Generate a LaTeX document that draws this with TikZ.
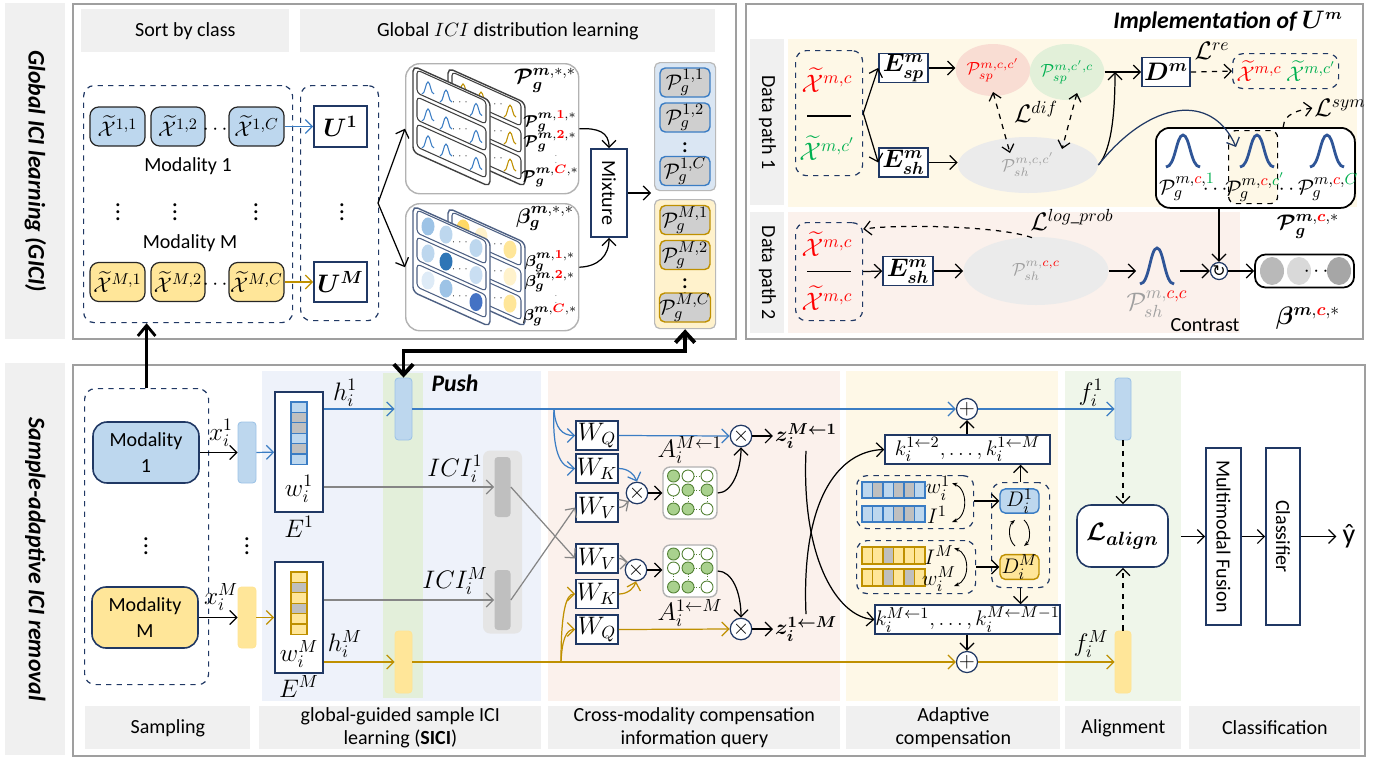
\documentclass[tikz,border=0pt]{standalone}
\usepackage{amsmath}
\usepackage{amssymb}
\usepackage{bm}
\usepackage{fontspec}
\setmainfont{Carlito}
\newfontfamily\arrowfont{DejaVu Sans}
\usepackage{tikz}
\usetikzlibrary{arrows.meta,positioning,calc,shapes.geometric}

\definecolor{hdrgray}{HTML}{F0F0F0}
\definecolor{navy}{HTML}{203864}
\definecolor{modblue}{HTML}{BDD7EE}
\definecolor{modyellow}{HTML}{FFE699}
\definecolor{lineblue}{HTML}{3B7DC4}
\definecolor{linegold}{HTML}{BF9000}
\definecolor{linegray}{HTML}{858585}
\definecolor{sicibg}{HTML}{EEF2FA}
\definecolor{pushbg}{HTML}{E3EFDA}
\definecolor{querybg}{HTML}{FBF1EC}
\definecolor{compbg}{HTML}{FEF8E7}
\definecolor{alignbg}{HTML}{EFF6EA}
\definecolor{cellgray}{HTML}{BFBFBF}
\definecolor{clsred}{HTML}{FF0000}
\definecolor{clsgreen}{HTML}{00B050}
\definecolor{spred}{HTML}{F9DDD3}
\definecolor{spgreen}{HTML}{E2F0D9}
\definecolor{shgray}{HTML}{EBEBEB}
\definecolor{bumpblue}{HTML}{2F5597}
\definecolor{grpblue}{HTML}{DAE6F3}
\definecolor{attgreen}{HTML}{A9D18E}
\definecolor{attedge}{HTML}{548235}
\definecolor{bsh1}{HTML}{DEEBF7}
\definecolor{bsh2}{HTML}{C9DEF2}
\definecolor{bsh3}{HTML}{BDD7EE}
\definecolor{bsh4}{HTML}{9DC3E6}
\definecolor{bsh5}{HTML}{4472C4}
\definecolor{bsh6}{HTML}{2E75B6}
\definecolor{ysh1}{HTML}{FFF2CC}
\definecolor{ysh2}{HTML}{FFE699}
\definecolor{ysh3}{HTML}{FFD966}

\newcommand{\lbltext}{\fontsize{11.4}{13}\selectfont}
\newcommand{\lblmath}{\fontsize{14}{15}\selectfont}
\newcommand{\midmath}{\fontsize{12.5}{14}\selectfont}
\newcommand{\smallmath}{\fontsize{9.5}{11}\selectfont}
\newcommand{\sidetitle}{\fontsize{13.5}{15}\selectfont\bfseries\itshape}
\newcommand{\rd}[1]{\textcolor{clsred}{#1}}
\newcommand{\gn}[1]{\textcolor{clsgreen}{#1}}
\newcommand{\Xt}{\widetilde{\mathcal{X}}}
\newcommand{\bPg}[1]{\bm{\mathcal{P}}_{\bm{g}}^{#1}}
\newcommand{\bBg}[1]{\bm{\beta}_{\bm{g}}^{#1}}
% bell curve: [style] centre x, base y, half width, height
\newcommand{\bell}[5][]{\draw[#1] ({#2-#4},{#3}) .. controls ({#2-0.45*#4},{#3}) and ({#2-0.4*#4},{#3-#5}) .. ({#2},{#3-#5}) .. controls ({#2+0.4*#4},{#3-#5}) and ({#2+0.45*#4},{#3}) .. ({#2+#4},{#3});}
% slanted card: [style] left x, top y, width, height
\newcommand{\slcard}[5][]{\draw[#1] ({#2},{#3}) -- ({#2+#4},{#3+0.45*#4}) -- ({#2+#4},{#3+0.45*#4+#5}) -- ({#2},{#3+#5}) -- cycle;}

\begin{document}
\begin{tikzpicture}[x=0.02cm,y=-0.02cm,
  sz/.style 2 args={minimum width=#1*0.02cm,minimum height=#2*0.02cm,inner sep=0pt},
  hdr/.style={fill=hdrgray,align=center,font=\lbltext},
  sidebar/.style={fill=hdrgray},
  panel/.style={draw=gray!75,line width=0.9pt},
  dbox/.style={draw=navy,dashed,rounded corners=6pt,line width=0.7pt},
  xcls/.style={draw=black!85,rounded corners=5pt,line width=0.7pt,font=\midmath},
  mbox/.style={draw=navy,fill=white,line width=0.9pt,font=\lblmath},
  modbox/.style={draw=navy,rounded corners=8pt,line width=0.9pt,align=center,font=\fontsize{11.4}{15}\selectfont},
  pgin/.style={draw=#1,fill=cellgray!75,rounded corners=3pt,line width=0.8pt,font=\fontsize{13}{14}\selectfont},
  grp/.style={draw=gray!55,fill=#1,rounded corners=3pt,line width=0.7pt},
  bluebar/.style={fill=modblue,draw=bsh4,rounded corners=2pt,line width=0.5pt},
  goldbar/.style={fill=modyellow,draw=ysh3!70,rounded corners=2pt,line width=0.5pt},
  colbg/.style={fill=#1,inner sep=0pt},
  opnode/.style={circle,draw=navy,fill=white,line width=0.7pt,minimum size=0.32cm,inner sep=0pt,font=\midmath},
  spot/.style={ellipse,fill=#1,inner sep=0pt},
  lbl/.style={font=\lblmath,inner sep=1pt},
  arr/.style={-{Straight Barb[length=4pt,width=8pt]},line width=0.7pt},
  darr/.style={{Straight Barb[length=4pt,width=7pt]}-{Straight Barb[length=4pt,width=7pt]},dashed,line width=0.7pt},
  pusharr/.style={{Straight Barb[length=6pt,width=11pt]}-{Straight Barb[length=6pt,width=11pt]},line width=2.2pt},
  vbox/.style={draw=navy,fill=white,line width=0.9pt}
]
\useasboundingbox (0,0) rectangle (1382,758);

% ================= global ICI learning =================
\node[sidebar,sz={60}{336},anchor=north west] (gicibar) at (5,3) {};
\node[rotate=-90,font=\sidetitle] (gicititle) at (gicibar.center) {Global ICI learning (GICI)};
\node[panel,sz={663}{335},anchor=north west] (gicipanel) at (72,3) {};
\node[hdr,sz={208}{43},anchor=north west] (sorthdr) at (81,9) {Sort by class};
\node[hdr,sz={415}{43},anchor=north west] (disthdr) at (300,9) {Global $ICI$ distribution learning};

\node[dbox,sz={209}{237},anchor=north west] (sortbox) at (83,85) {};
\node[xcls,fill=modblue,sz={55}{39}] (x11) at (117.5,126.5) {$\Xt^{1,1}$};
\node[xcls,fill=modblue,sz={54}{39}] (x12) at (178,126.5) {$\Xt^{1,2}$};
\node[xcls,fill=modblue,sz={55}{39}] (x1C) at (256.5,126.5) {$\Xt^{1,C}$};
\node[font=\midmath,inner sep=0pt] (x1dots) at (217,130) {$\cdots$};
\node[font=\lbltext] (mod1name) at (188,166) {Modality 1};
\node[lbl] (sortvd1) at (118,207) {$\vdots$};
\node[lbl] (sortvd2) at (175,207) {$\vdots$};
\node[lbl] (sortvd3) at (256,207) {$\vdots$};
\node[font=\lbltext] (modMname) at (190,243) {Modality M};
\node[xcls,fill=modyellow,sz={55}{39}] (xM1) at (117.5,282) {$\Xt^{M,1}$};
\node[xcls,fill=modyellow,sz={54}{39}] (xM2) at (178,282) {$\Xt^{M,2}$};
\node[xcls,fill=modyellow,sz={55}{39}] (xMC) at (256.5,282) {$\Xt^{M,C}$};
\node[font=\midmath,inner sep=0pt] (xMdots) at (217,285) {$\cdots$};

\node[dbox,sz={78}{235},anchor=north west] (ubox) at (300,85) {};
\node[mbox,sz={53}{41}] (u1) at (340.5,126.5) {$\bm{U^{1}}$};
\node[lbl] (uvd) at (342,207) {$\vdots$};
\node[mbox,sz={53}{40}] (uM) at (340.5,282) {$\bm{U^{M}}$};
\draw[arr,lineblue] (x1C) -- (u1);
\draw[arr,linegold] (xMC) -- (uM);

\node[draw=gray!60,fill=white,rounded corners=8pt,line width=0.8pt,sz={173}{130},anchor=north west] (pbank) at (405,63) {};
\node[draw=gray!60,fill=white,rounded corners=8pt,line width=0.8pt,sz={173}{127},anchor=north west] (bbank) at (405,203) {};
\coordinate (ufork) at (378,203);
\draw[arr] (ufork) -- (pbank.west);
\draw[arr] (ufork) -- (bbank.west);

% distribution cards: gold cards behind, blue cards in front
\slcard[draw=black!75,fill=white,line width=0.8pt,rounded corners=3pt]{448}{68}{77}{84}
\foreach \ry in {72,99,126}{%
  \slcard[draw=black!75,line width=0.6pt,rounded corners=2pt]{452}{\ry}{69}{23}
  \foreach \bx in {463,481,510}{\bell[linegold,line width=0.6pt]{\bx}{\ry+19+0.45*(\bx-452)}{6}{12}}
  \node[inner sep=0pt,font=\tiny] (gdots\ry) at (496,{\ry+13+0.45*44}) {$\cdots$};
}
\slcard[draw=black!75,fill=white,line width=0.8pt,rounded corners=3pt]{413}{66}{77}{86}
\foreach \ry in {70,97,124}{%
  \slcard[draw=black!75,line width=0.6pt,rounded corners=2pt]{417}{\ry}{69}{23}
  \foreach \bx in {428,446,476}{\bell[lineblue,line width=0.6pt]{\bx}{\ry+19+0.45*(\bx-417)}{6}{12}}
  \node[inner sep=0pt,font=\tiny] (bdots\ry) at (461,{\ry+13+0.45*44}) {$\cdots$};
}
% weight cards
\slcard[draw=navy!80,fill=white,line width=0.8pt,rounded corners=3pt]{448}{208}{77}{84}
\foreach \ry/\ca/\cb/\cc in {212/ysh3/ysh1/ysh2,239/ysh1/ysh1/ysh1,266/ysh2/ysh1/ysh2}{%
  \slcard[draw=navy!80,line width=0.6pt,rounded corners=2pt]{452}{\ry}{69}{23}
  \fill[\ca] (463,{\ry+11.5+0.45*11}) ellipse [x radius=6.5,y radius=9];
  \fill[\cb] (481,{\ry+11.5+0.45*29}) ellipse [x radius=6.5,y radius=9];
  \fill[\cc] (510,{\ry+11.5+0.45*58}) ellipse [x radius=6.5,y radius=9];
  \node[inner sep=0pt,font=\tiny] (ywdots\ry) at (496,{\ry+13+0.45*44}) {$\cdots$};
}
\slcard[draw=navy!80,fill=white,line width=0.8pt,rounded corners=3pt]{413}{206}{77}{86}
\foreach \ry/\ca/\cb/\cc in {210/bsh4/bsh3/bsh3,237/bsh3/bsh6/bsh2,264/bsh1/bsh4/bsh5}{%
  \slcard[draw=navy!80,line width=0.6pt,rounded corners=2pt]{417}{\ry}{69}{23}
  \fill[\ca] (428,{\ry+11.5+0.45*11}) ellipse [x radius=6.5,y radius=9];
  \fill[\cb] (446,{\ry+11.5+0.45*29}) ellipse [x radius=6.5,y radius=9];
  \fill[\cc] (476,{\ry+11.5+0.45*59}) ellipse [x radius=6.5,y radius=9];
  \node[inner sep=0pt,font=\tiny] (bwdots\ry) at (461,{\ry+13+0.45*44}) {$\cdots$};
}

\node[font=\fontsize{13}{14}\selectfont] (pgall) at (545,80) {$\bPg{\bm{m},*,*}$};
\node[font=\smallmath] (pgr1) at (550,121) {$\bPg{\bm{m},\rd{\bm{1}},*}$};
\node[font=\smallmath] (pgr2) at (550,141) {$\bPg{\bm{m},\rd{\bm{2}},*}$};
\node[font=\tiny,gray,inner sep=0pt] (pgrvd) at (556,158) {$\vdots$};
\node[font=\smallmath] (pgrC) at (550,176) {$\bPg{\bm{m},\rd{\bm{C}},*}$};
\node[font=\fontsize{13}{14}\selectfont] (bgall) at (545,218) {$\bBg{\bm{m},*,*}$};
\node[font=\smallmath] (bgr1) at (550,261) {$\bBg{\bm{m},\rd{\bm{1}},*}$};
\node[font=\smallmath] (bgr2) at (550,281) {$\bBg{\bm{m},\rd{\bm{2}},*}$};
\node[font=\tiny,gray,inner sep=0pt] (bgrvd) at (556,298) {$\vdots$};
\node[font=\smallmath] (bgrC) at (550,315) {$\bBg{\bm{m},\rd{\bm{C}},*}$};

\node[vbox,sz={36}{88}] (mix) at (609,193) {};
\node[rotate=-90,font=\lbltext] (mixname) at (mix.center) {Mixture};
\draw[arr] (pbank.east) .. controls (598,128) and (609,132) .. (mix.north);
\draw[arr] (bbank.east) .. controls (598,266.5) and (609,256) .. (mix.south);
\coordinate (mixout) at (651,193);
\draw[arr] (mix.east) -- (mixout);

\node[grp=grpblue,sz={61}{128},anchor=north west] (grp1) at (654,62) {};
\node[pgin=lineblue,sz={50}{29}] (pg11) at (685,82.5) {$\mathcal{P}_g^{1,1}$};
\node[pgin=lineblue,sz={50}{29}] (pg12) at (685,117.5) {$\mathcal{P}_g^{1,2}$};
\node[lbl] (pg1vd) at (685,146) {$\vdots$};
\node[pgin=lineblue,sz={50}{29}] (pg1C) at (685,171) {$\mathcal{P}_g^{1,C}$};
\node[grp=ysh1,sz={61}{129},anchor=north west] (grpM) at (654,199) {};
\node[pgin=linegold,sz={50}{29}] (pgM1) at (685,220) {$\mathcal{P}_g^{M,1}$};
\node[pgin=linegold,sz={50}{29}] (pgM2) at (685,255) {$\mathcal{P}_g^{M,2}$};
\node[lbl] (pgMvd) at (685,282) {$\vdots$};
\node[pgin=linegold,sz={50}{29}] (pgMC) at (685,307.5) {$\mathcal{P}_g^{M,C}$};

% ================= implementation of U^m =================
\node[panel,sz={617}{335},anchor=north west] (umpanel) at (745,3) {};
\node[font=\sidetitle,anchor=east] (umtitle) at (1349,22) {Implementation of $\bm{U^{m}}$};
\node[sidebar,sz={34}{166},anchor=north west] (dp1bar) at (750,39) {};
\node[rotate=-90,font=\lbltext] (dp1name) at (dp1bar.center) {Data path 1};
\node[colbg=compbg,sz={569}{168},anchor=north west] (dp1bg) at (788,39) {};
\node[sidebar,sz={34}{121},anchor=north west] (dp2bar) at (750,212) {};
\node[rotate=-90,font=\lbltext] (dp2name) at (dp2bar.center) {Data path 2};
\node[colbg=querybg,sz={452}{121},anchor=north west] (dp2bg) at (788,212) {};

% data path 1
\node[dbox,sz={67}{125},anchor=north west] (dp1in) at (795,50) {};
\node[lbl] (dp1xa) at (827,80) {$\rd{\Xt^{m,c}}$};
\draw[line width=0.8pt] ($(dp1in.west)+(12,3)$) -- ($(dp1in.east)+(-12,3)$);
\node[lbl] (dp1xb) at (827,148) {$\gn{\Xt^{m,c'}}$};
\node[mbox,sz={49}{29}] (esp) at (903.5,68) {$\bm{E_{sp}^{m}}$};
\node[mbox,sz={49}{29}] (esh) at (903.5,162.5) {$\bm{E_{sh}^{m}}$};
\coordinate (dp1fork) at (dp1in.east);
\draw[arr] (dp1fork) -- (esp.west);
\draw[arr] (dp1fork) -- (esh.west);
\node[spot=spred,sz={70}{52}] (sppos) at (993,70) {$\rd{\mathcal{P}_{sp}^{m,c,c'}}$};
\node[spot=spgreen,sz={74}{56}] (spneg) at (1067,72) {$\gn{\mathcal{P}_{sp}^{m,c',c}}$};
\node[spot=shgray,sz={140}{56},text=gray!75] (shpair) at (1028,165) {$\mathcal{P}_{sh}^{m,c,c'}$};
\draw[arr] (esp.east) -- (esp.east -| sppos.west);
\draw[arr] (esh.east) -- (esh.east -| shpair.west);
\draw[darr] ($(sppos.center)+(0,22)$) -- ($(shpair.center)+(-18,-12)$);
\draw[darr] ($(spneg.center)+(10,21)$) -- ($(shpair.center)+(34,-16)$);
\node[lbl] (ldif) at (1036,112) {$\mathcal{L}^{dif}$};
\coordinate (djoin) at (1115,72);
\node[mbox,sz={48}{29}] (dm) at (1166,72) {$\bm{D^{m}}$};
\draw[line width=0.7pt] (spneg.east) -- (djoin);
\draw[arr] (djoin) -- (dm.west);
\draw[arr] (shpair.east) .. controls (1112,150) and (1115,110) .. (djoin);
\node[dbox,sz={106}{35},anchor=north west] (recbox) at (1232,53) {};
\node[lbl,font=\midmath] (recxa) at (1259,71) {$\rd{\Xt^{m,c}}$};
\node[lbl,font=\midmath] (recxb) at (1311,71) {$\gn{\Xt^{m,c'}}$};
\draw[arr,dashed] (dm.east) -- (recbox.west);
\node[lbl] (lre) at (1212,51) {$\mathcal{L}^{re}$};

\node[draw=black,fill=white,rounded corners=8pt,line width=1pt,sz={199}{80},anchor=north west] (pgbox) at (1155,127) {};
\node[dbox,draw=black,fill=compbg,rounded corners=4pt,sz={49}{73},anchor=north west] (pgsel) at (1228,130) {};
\bell[bumpblue,line width=1.6pt]{1183}{167}{17}{32}
\bell[bumpblue,line width=1.6pt]{1257}{167}{17}{32}
\bell[bumpblue,line width=1.6pt]{1327}{167}{17}{32}
\node[lbl,font=\midmath] (pgc1) at (1187,187) {$\mathcal{P}_g^{m,\rd{c},\gn{1}}$};
\node[lbl,font=\midmath] (pgcc) at (1255,187) {$\mathcal{P}_g^{m,\rd{c},\gn{c'}}$};
\node[lbl,font=\midmath] (pgcC) at (1328,187) {$\mathcal{P}_g^{m,\rd{c},\gn{C}}$};
\node[font=\midmath,inner sep=0pt] (pgdots1) at (1217,190) {$\cdots$};
\node[font=\midmath,inner sep=0pt] (pgdots2) at (1293,190) {$\cdots$};
\node[lbl,font=\fontsize{13}{14}\selectfont] (pgrow) at (1308,226) {$\bPg{\bm{m},\rd{\bm{c}},*}$};
\draw[arr,navy] (shpair.east) .. controls (1150,100) and (1212,92) .. ($(pgsel.north west)+(8,17)$);
\node[lbl] (lsym) at (1340,108) {$\mathcal{L}^{sym}$};
\draw[arr,dashed] ($(pgsel.north east)+(5,-3)$) .. controls (1284,113) and (1300,110) .. (lsym.west);

% data path 2
\node[dbox,sz={67}{98},anchor=north west] (dp2in) at (795,222) {};
\node[lbl] (dp2xa) at (827,244) {$\rd{\Xt^{m,c}}$};
\draw[line width=0.8pt] ($(dp2in.west)+(12,0)$) -- ($(dp2in.east)+(-12,0)$);
\node[lbl] (dp2xb) at (827,298) {$\rd{\Xt^{m,c}}$};
\node[mbox,sz={50}{29}] (esh2) at (908,271) {$\bm{E_{sh}^{m}}$};
\draw[arr] (dp2in.east) -- (esh2.west);
\node[spot=shgray,sz={145}{68},text=gray!75] (shself) at (1036,271) {$\mathcal{P}_{sh}^{m,\rd{c,c}}$};
\draw[arr] (esh2.east) -- (shself.west);
\draw[arr,dashed] ($(shself.north)+(-4,1)$) .. controls (1000,226) and (900,224) .. ($(dp2in.north east)+(0,7)$);
\node[lbl] (llog) at (1072,220) {$\mathcal{L}^{log\_prob}$};
\coordinate (bumpin) at (1136,271);
\coordinate (bumpout) at (1180,271);
\bell[bumpblue,line width=1.6pt]{1157}{284}{17}{36}
\node[lbl,text=gray!75] (shbump) at (1157,304) {$\mathcal{P}_{sh}^{m,\rd{c,c}}$};
\node[opnode] (ctr) at (1219,271) {\arrowfont\fontsize{9}{9}\selectfont ↻};
\draw[arr] (shself.east) -- (bumpin);
\draw[arr] (bumpout) -- (ctr.west);
\draw[arr] (pgbox.south -| ctr) -- (ctr.north);
\node[draw=black,fill=white,rounded corners=6pt,line width=1pt,sz={99}{33}] (brow) at (1304.5,271) {};
\node[spot=gray!55,sz={24}{28}] (bsp1) at (1272,271) {};
\node[spot=gray!30,sz={24}{28}] (bsp2) at (1299,271) {};
\node[font=\midmath,inner sep=0pt] (bspdots) at (1318,272) {$\cdots$};
\node[spot=gray!70,sz={24}{28}] (bsp3) at (1339,271) {};
\draw[arr] (ctr.east) -- (brow.west);
\node[font=\lbltext] (contrast) at (1205,325) {Contrast};
\node[lbl] (browlbl) at (1308,318) {$\bm{\beta}^{\bm{m},\rd{\bm{c}},*}$};

% ================= sample-adaptive ICI removal =================
\node[sidebar,sz={60}{392},anchor=north west] (sairbar) at (5,363) {};
\node[rotate=-90,font=\sidetitle] (sairtitle) at (sairbar.center) {Sample-adaptive ICI removal};
\node[panel,sz={1292}{391},anchor=north west] (sairpanel) at (72,364) {};
\node[colbg=sicibg,sz={279}{330},anchor=north west] (sicicol) at (262,371) {};
\node[colbg=pushbg,sz={40}{325},anchor=north west] (pushcol) at (383,373) {};
\node[colbg=querybg,sz={292}{330},anchor=north west] (querycol) at (548,371) {};
\node[colbg=compbg,sz={212}{330},anchor=north west] (compcol) at (846,371) {};
\node[colbg=alignbg,sz={116}{330},anchor=north west] (aligncol) at (1065,371) {};
\node[hdr,sz={165}{43},anchor=north west] (samphdr) at (85,706) {Sampling};
\node[hdr,sz={282}{43},anchor=north west] (sicihdr) at (259,706) {global-guided sample ICI\\learning (\textbf{SICI})};
\node[hdr,sz={292}{43},anchor=north west] (queryhdr) at (548,706) {Cross-modality compensation\\information query};
\node[hdr,sz={214}{43},anchor=north west] (comphdr) at (846,706) {Adaptive\\compensation};
\node[hdr,sz={116}{43},anchor=north west] (alignhdr) at (1065,706) {Alignment};
\node[hdr,sz={171}{43},anchor=north west] (clshdr) at (1189,706) {Classification};

% sampling
\node[dbox,sz={124}{296},anchor=north west] (sampbox) at (84,388) {};
\draw[line width=1.6pt,-{Straight Barb[length=6pt,width=10pt]}] (sampbox.north) -- (sampbox.north |- sortbox.south);
\node[modbox,fill=modblue,sz={106}{61}] (mod1) at (146,452.5) {Modality\\1};
\node[lbl] (sampvd1) at (146,541) {$\vdots$};
\node[lbl] (sampvd2) at (247,541) {$\vdots$};
\node[modbox,fill=modyellow,sz={106}{61}] (modM) at (145,617.5) {Modality\\M};
\node[bluebar,sz={18}{61}] (xbar1) at (247,452.5) {};
\node[goldbar,sz={18}{61}] (xbarM) at (247,617.5) {};
\draw[arr] (mod1) -- (xbar1);
\draw[arr] (modM) -- (xbarM);
\node[lbl] (x1lbl) at (221,433) {$x_i^{1}$};
\node[lbl] (xMlbl) at (221,597) {$x_i^{M}$};

% SICI
\node[vbox,sz={48}{120}] (enc1) at (299,452) {};
\foreach \cc [count=\i] in {modblue,cellgray,cellgray,modblue,cellgray,modblue}
  \draw[draw=lineblue,fill=\cc,line width=0.6pt] (291,{402+(\i-1)*10.4}) rectangle ++(16,10.4);
\node[lbl] (w1lbl) at (299,489) {$w_i^{1}$};
\node[lbl,below=1pt of enc1] (enc1lbl) {$E^{1}$};
\node[vbox,sz={48}{111}] (encM) at (299,617.5) {};
\foreach \cc [count=\i] in {modyellow,cellgray,modyellow,cellgray,modyellow,modyellow}
  \draw[draw=linegold,fill=\cc,line width=0.6pt] (291,{572+(\i-1)*10.4}) rectangle ++(16,10.4);
\node[lbl] (wMlbl) at (299,654) {$w_i^{M}$};
\node[lbl,below=0pt of encM] (encMlbl) {$E^{M}$};
\draw[arr,lineblue] (xbar1) -- (enc1);
\draw[arr,linegold] (xbarM) -- (encM);

\node[bluebar,sz={17}{62}] (hbar1) at (403.5,409) {};
\node[goldbar,sz={17}{62}] (hbarM) at (403.5,662) {};
\draw[arr,lineblue] (enc1.east |- hbar1.west) -- (hbar1.west);
\draw[arr,linegold] (encM.east |- hbarM.west) -- (hbarM.west);
\node[lbl] (h1lbl) at (345,393) {$h_i^{1}$};
\node[lbl] (hMlbl) at (345,644) {$h_i^{M}$};
\node[font=\sidetitle] (pushname) at (455,383) {Push};
\draw[pusharr] (grpM.south) -- ++(0,22) -| (hbar1.north);

\node[fill=gray!20,rounded corners=4pt,sz={39}{183}] (icigrp) at (502.5,542) {};
\node[fill=gray!50,rounded corners=2pt,sz={16}{60}] (ici1) at (502.5,487) {};
\node[fill=gray!50,rounded corners=2pt,sz={16}{60}] (iciM) at (502.5,600) {};
\draw[arr,linegray] (enc1.east |- ici1.west) -- (ici1.west);
\draw[arr,linegray] (encM.east |- iciM.west) -- (iciM.west);
\node[lbl] (ici1lbl) at (455,469) {$ICI_i^{1}$};
\node[lbl] (iciMlbl) at (455,581) {$ICI_i^{M}$};

% cross-modality query
\node[mbox,sz={42}{29}] (wq1) at (597,435.5) {$W_Q$};
\node[mbox,sz={42}{29}] (wk1) at (597,468.5) {$W_K$};
\node[mbox,sz={42}{29}] (wv1) at (597,507.5) {$W_V$};
\node[mbox,sz={42}{29}] (wvM) at (597,558.5) {$W_V$};
\node[mbox,sz={42}{29}] (wkM) at (597,594) {$W_K$};
\node[mbox,sz={42}{29}] (wqM) at (597,629.5) {$W_Q$};
\draw[arr,linegray] (ici1.east) -- (wvM.west);
\draw[arr,linegray] (iciM.east) -- (wv1.west);

\node[opnode] (plus1) at (967,409) {$+$};
\node[opnode] (plusM) at (967,662) {$+$};
\draw[arr,lineblue] (hbar1.east) -- (plus1.west);
\draw[arr,linegold] (hbarM.east) -- (plusM.west);
\coordinate (qfork1) at (554,409);
\coordinate (qforkM) at (561,662);
\draw[arr,lineblue] (qfork1) .. controls (555,428) and (562,435.5) .. (wq1.west);
\draw[arr,lineblue] (qfork1) .. controls (552,450) and (560,468.5) .. (wk1.west);
\draw[arr,linegold] (qforkM) .. controls (562,640) and (566,629.5) .. (wqM.west);
\draw[arr,linegold] (qforkM) .. controls (561,612) and (566,594) .. (wkM.west);

\node[opnode] (att1) at (637,493) {$\times$};
\node[opnode] (attM) at (636,570) {$\times$};
\node[opnode] (q1) at (741,436) {$\times$};
\node[opnode] (qM) at (741,629) {$\times$};
\draw[arr,lineblue] (wq1.east) -- (q1.west);
\draw[arr,linegold] (wqM.east) -- (qM.west);
\draw[arr,lineblue] (wk1.east) .. controls (628,468.5) and (634,474) .. (att1.north);
\draw[arr,linegray] (wv1.east) .. controls (625,507.5) and (626,503) .. (att1.south west);
\draw[arr,linegray] (wvM.east) .. controls (624,558.5) and (625,562) .. (attM.north west);
\draw[arr,linegold] (wkM.east) .. controls (628,594) and (634,588) .. (attM.south);

\node[draw=gray!60,fill=white,rounded corners=4pt,line width=0.8pt,sz={54}{52}] (amat1) at (690,493) {};
\node[draw=gray!60,fill=white,rounded corners=4pt,line width=0.8pt,sz={54}{52}] (amatM) at (690,571) {};
\foreach \my in {0,78}{%
  \foreach \cx/\cy/\cf in {673.5/476/attgreen,688/476/white,707/476/white,
                           673.5/490/white,688/490/attgreen,707/490/attgreen,
                           673.5/509/attgreen,688/509/attgreen,707/509/white}{%
    \draw[attedge,fill=\cf,line width=0.5pt] (\cx,{\cy+\my}) circle [radius=6];
  }
  \foreach \cy in {476,490,509}{\draw[attedge,densely dotted,line width=0.4pt] (694,{\cy+\my}) -- (701,{\cy+\my});}
  \foreach \cx in {673.5,688,707}{\draw[attedge,densely dotted,line width=0.4pt] (\cx,{496+\my}) -- (\cx,{503+\my});}
}
\draw[arr] (att1.east) -- (amat1.west);
\draw[arr] (attM.east) -- (attM.east -| amatM.west);
\node[lbl] (a1lbl) at (690,450) {$A_i^{M\leftarrow1}$};
\node[lbl] (aMlbl) at (690,613) {$A_i^{1\leftarrow M}$};
\draw[arr] (amat1.east) .. controls (732,493) and (741,470) .. (q1.south);
\draw[arr] (amatM.east) .. controls (732,571) and (741,592) .. (qM.north);
\node[lbl,font=\fontsize{13}{14}\selectfont] (z1) at (806,436) {$\bm{z_i^{M\leftarrow1}}$};
\node[lbl,font=\fontsize{13}{14}\selectfont] (zM) at (806,629) {$\bm{z_i^{1\leftarrow M}}$};
\draw[arr] (q1.east) -- (z1.west);
\draw[arr] (qM.east) -- (zM.west);

% adaptive compensation
\node[mbox,sz={165}{29},font=\fontsize{13}{14}\selectfont] (k1) at (967.5,449.5) {$k_i^{1\leftarrow2},\dots,k_i^{1\leftarrow M}$};
\node[mbox,sz={165}{29},font=\midmath] (kM) at (967.5,619.5) {$k_i^{M\leftarrow1},\dots,k_i^{M\leftarrow M-1}$};
\draw[arr] (z1.south) .. controls (801,560) and (838,617) .. (kM.west);
\draw[arr] (zM.north) .. controls (801,500) and (838,451) .. (k1.west);
\draw[arr] (k1.north -| plus1) -- (plus1.south);
\draw[arr] (kM.south -| plusM) -- (plusM.north);

\node[dbox,sz={117}{53},anchor=north west] (wi1) at (856,475) {};
\node[dbox,sz={119}{53},anchor=north west] (wiM) at (856,540) {};
\foreach \cc [count=\i] in {modblue,cellgray,modblue,cellgray,cellgray,modblue}
  \draw[draw=lineblue,fill=\cc,line width=0.6pt] ({862+(\i-1)*10.5},482) rectangle ++(10.5,16);
\foreach \cc [count=\i] in {modblue,modblue,modblue,cellgray,cellgray,modblue}
  \draw[draw=lineblue,fill=\cc,line width=0.6pt] ({862+(\i-1)*10.5},506) rectangle ++(10.5,16);
\foreach \cc [count=\i] in {modyellow,modyellow,cellgray,modyellow,modyellow,modyellow}
  \draw[draw=linegold,fill=\cc,line width=0.6pt] ({862+(\i-1)*10.5},547) rectangle ++(10.5,17);
\foreach \cc [count=\i] in {modyellow,modyellow,cellgray,modyellow,cellgray,modyellow}
  \draw[draw=linegold,fill=\cc,line width=0.6pt] ({862+(\i-1)*10.5},569) rectangle ++(10.5,17);
\node[lbl,font=\midmath] (wi1w) at (938,488) {$w_i^{1}$};
\node[lbl,font=\midmath] (wi1i) at (937,515) {$I^{1}$};
\node[lbl,font=\midmath] (wiMi) at (939,555) {$I^{M}$};
\node[lbl,font=\midmath] (wiMw) at (939,579) {$w_i^{M}$};
\draw[{Stealth[length=3pt]}-{Stealth[length=3pt]},line width=0.5pt] (952,483) .. controls (968,489) and (968,516) .. (952,522);
\draw[{Stealth[length=3pt]}-{Stealth[length=3pt]},line width=0.5pt] (954,548) .. controls (970,554) and (970,580) .. (954,586);

\node[dbox,sz={58}{105},anchor=north west] (dsel) at (991,482) {};
\node[draw=lineblue,fill=modblue,rounded corners=3pt,line width=0.8pt,sz={39}{24},font=\midmath] (d1) at (1019.5,501) {$D_i^{1}$};
\node[draw=linegold,fill=modyellow,rounded corners=3pt,line width=0.8pt,sz={39}{24},font=\midmath] (dM) at (1019.5,567) {$D_i^{M}$};
\draw[arr] (wi1.east |- d1.west) -- (d1.west);
\draw[arr] (wiM.east |- dM.west) -- (dM.west);
\draw[-{Stealth[length=3pt]},line width=0.5pt] (1015,546) .. controls (1008,540) and (1008,526) .. (1015,520);
\draw[-{Stealth[length=3pt]},line width=0.5pt] (1024,520) .. controls (1031,526) and (1031,540) .. (1024,546);
\draw[arr] (dsel.north) -- (dsel.north |- k1.south);
\draw[arr] (dsel.south) -- (dsel.south |- kM.north);

% alignment and classification
\node[bluebar,sz={16}{62}] (fbar1) at (1123,409) {};
\node[goldbar,sz={16}{62}] (fbarM) at (1123,662) {};
\draw[arr,lineblue] (plus1.east) -- (fbar1.west);
\draw[arr,linegold] (plusM.east) -- (fbarM.west);
\node[lbl] (f1lbl) at (1091,393) {$f_i^{1}$};
\node[lbl] (fMlbl) at (1091,644) {$f_i^{M}$};
\node[draw=navy,fill=white,rounded corners=8pt,line width=0.9pt,sz={91}{62},font=\fontsize{15}{16}\selectfont] (lalign) at (1122.5,536) {$\bm{\mathcal{L}_{align}}$};
\draw[arr,dashed] (fbar1.south) -- (fbar1.south |- lalign.north);
\draw[arr,dashed] (fbarM.north) -- (fbarM.north |- lalign.south);
\node[vbox,sz={35}{177}] (mmf) at (1223.5,536.5) {};
\node[rotate=-90,font=\lbltext] (mmfname) at (mmf.center) {Multimodal Fusion};
\node[vbox,sz={34}{177}] (cls) at (1283,536.5) {};
\node[rotate=-90,font=\lbltext] (clsname) at (cls.center) {Classifier};
\node[font=\fontsize{16}{17}\selectfont] (yhat) at (1349,536.5) {ŷ};
\coordinate (fusein) at (1181,536.5);
\draw[arr] (fusein) -- (mmf.west);
\draw[arr] (mmf.east) -- (cls.west);
\draw[arr] (cls.east) -- (yhat.west);
\end{tikzpicture}
\end{document}
